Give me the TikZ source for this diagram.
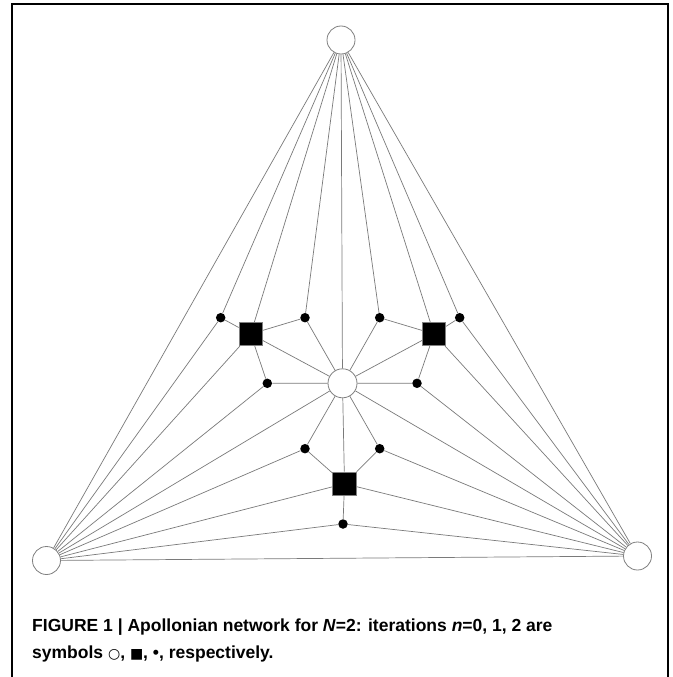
\documentclass[tikz,border=0pt]{standalone}
\usepackage{fontspec}
\setmainfont{Liberation Sans}
\newfontfamily\capfont{Liberation Sans}
\newfontfamily\symfont{DejaVu Sans}
\definecolor{edgegray}{HTML}{7A7A7A}
\definecolor{rimgray}{HTML}{808080}
\newcommand{\capsym}[1]{{\symfont\fontsize{14}{16}\selectfont #1}}
\tikzset{
  edge/.style={draw=edgegray, line width=0.7pt},
  gen0/.style={circle, draw=rimgray, fill=white, line width=0.8pt, minimum size=28pt, inner sep=0pt},
  gen1/.style={rectangle, draw=rimgray, fill=black, line width=0.6pt, minimum size=23.5pt, inner sep=0pt},
  gen2/.style={circle, fill=black, minimum size=9.5pt, inner sep=0pt},
  captxt/.style={anchor=base west, inner sep=0pt, font=\capfont\bfseries\fontsize{17.5}{21}\selectfont}
}
\begin{document}
\begin{tikzpicture}[x=1pt,y=-1pt]
\useasboundingbox (0,0) rectangle (672,677);
\fill[white] (0,0) rectangle (672,677);
% frame
\draw[line width=1.3pt] (12,677) -- (12,4) -- (668,4) -- (668,677);
% n = 0
\node[gen0] (A) at (341,40) {};
\node[gen0] (B) at (46.5,560.5) {};
\node[gen0] (C) at (637.5,556) {};
\node[gen0, minimum size=29pt] (O) at (342.5,383.3) {};
% n = 1
\node[gen1] (S1) at (250.7,334) {};
\node[gen1] (S2) at (434,334) {};
\node[gen1] (S3) at (344.5,483.7) {};
% n = 2
\node[gen2] (d1) at (220.7,317.7) {};
\node[gen2] (d2) at (305,317.7) {};
\node[gen2] (d3) at (267.3,383.3) {};
\node[gen2] (d4) at (379.7,317.7) {};
\node[gen2] (d5) at (459.7,317.7) {};
\node[gen2] (d6) at (417,383.3) {};
\node[gen2] (d7) at (305,448.7) {};
\node[gen2] (d8) at (379.7,448.7) {};
\node[gen2] (d9) at (343,524) {};
% edges
\path[edge] (A) -- (B) (A) -- (C) (B) -- (C)
  (O) -- (A) (O) -- (B) (O) -- (C)
  (S1) -- (O) (S1) -- (A) (S1) -- (B)
  (S2) -- (O) (S2) -- (A) (S2) -- (C)
  (S3) -- (O) (S3) -- (B) (S3) -- (C)
  (d1) -- (S1) (d1) -- (A) (d1) -- (B)
  (d2) -- (S1) (d2) -- (O) (d2) -- (A)
  (d3) -- (S1) (d3) -- (B) (d3) -- (O)
  (d4) -- (S2) (d4) -- (O) (d4) -- (A)
  (d5) -- (S2) (d5) -- (A) (d5) -- (C)
  (d6) -- (S2) (d6) -- (C) (d6) -- (O)
  (d7) -- (S3) (d7) -- (O) (d7) -- (B)
  (d8) -- (S3) (d8) -- (O) (d8) -- (C)
  (d9) -- (S3) (d9) -- (B) (d9) -- (C);
% caption
\node[captxt] (cap1) at (32,631) {FIGURE 1 | Apollonian network for \textit{N}=2: iterations \textit{n}=0, 1, 2 are};
\node[captxt] (cap2) at (32,658) {symbols \capsym{○}, \capsym{■}, •, respectively.};
\end{tikzpicture}
\end{document}
